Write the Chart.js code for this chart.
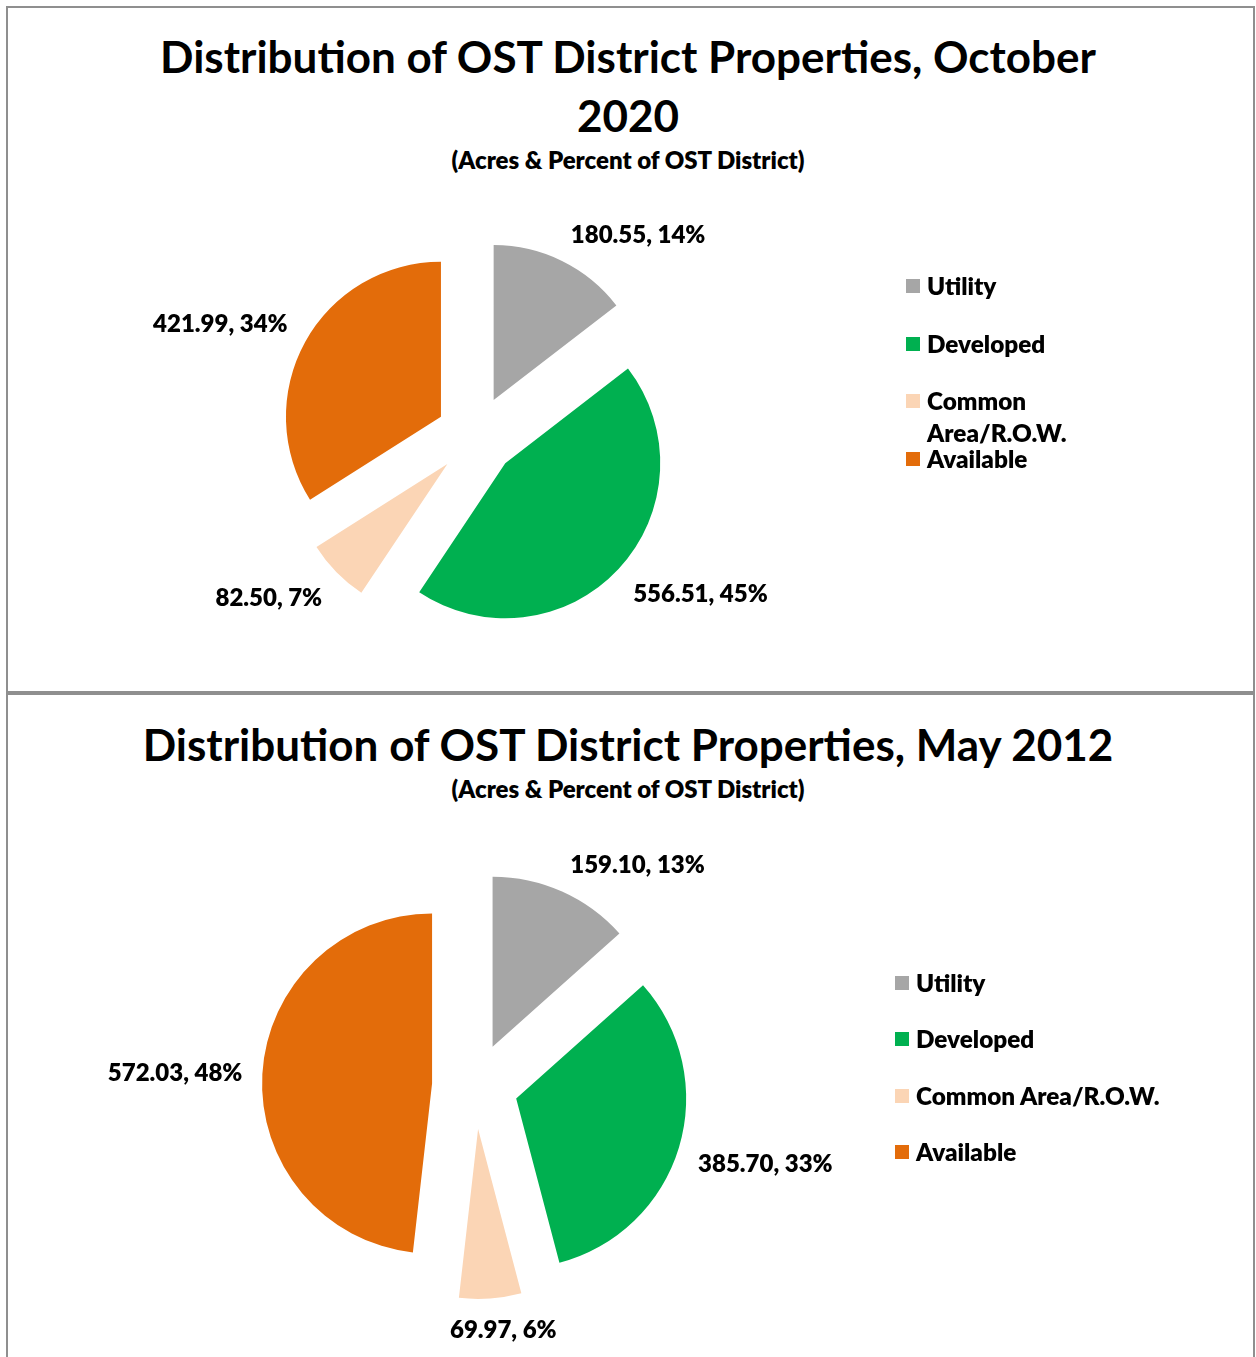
<!DOCTYPE html>
<html>
<head>
<meta charset="utf-8">
<script src="https://cdn.jsdelivr.net/npm/chart.js@4.4.1/dist/chart.umd.min.js"></script>
<style>
html,body{margin:0;padding:0;background:#fff;width:1256px;height:1357px;overflow:hidden;font-family:Lato,"Open Sans",sans-serif;color:#000;}
.box{position:absolute;box-sizing:border-box;border:2px solid #8f8f8f;}
.title{position:absolute;left:0;width:1256px;text-align:center;font-weight:700;font-size:44px;line-height:59px;white-space:nowrap;}
.sub{position:absolute;left:0;width:1256px;text-align:center;font-weight:800;font-size:24px;line-height:26px;}
canvas{position:absolute;left:0;}
.leg{position:absolute;font-weight:800;font-size:24.3px;line-height:32px;}
.leg .sw{position:absolute;width:14px;height:14px;}
.leg .tx{position:absolute;white-space:normal;}
</style>
</head>
<body>
<div class="box" style="left:6px;top:6px;width:1249px;height:687px;"></div>
<div class="box" style="left:6px;top:693px;width:1249px;height:700px;"></div>

<div class="title" style="top:27px;">Distribution of OST District Properties, October<br>2020</div>
<div class="sub" style="top:147px;">(Acres &amp; Percent of OST District)</div>
<div class="title" style="top:715px;">Distribution of OST District Properties, May 2012</div>
<div class="sub" style="top:776px;">(Acres &amp; Percent of OST District)</div>

<canvas id="c1" width="1256" height="682" style="top:8px;"></canvas>
<canvas id="c2" width="1256" height="661" style="top:696px;"></canvas>
<div id="leg1"></div>
<div id="leg2"></div>

<script>
// ---- data ----
const categories = ['Utility', 'Developed', 'Common Area/R.O.W.', 'Available'];
const colors = ['#A6A6A6', '#00B050', '#FBD5B5', '#E36C0A'];
const acres2020 = [180.55, 556.51, 82.50, 421.99];
const pct2020 = [14, 45, 7, 34];
const acres2012 = [159.10, 385.70, 69.97, 572.03];
const pct2012 = [13, 33, 6, 48];

// ---- plugins ----
const explodePlugin = {
  id: 'explode',
  afterDatasetUpdate(chart, args, opts) {
    const d = opts.distance || 0;
    args.meta.data.forEach(arc => {
      const mid = (arc.startAngle + arc.endAngle) / 2;
      arc.x += Math.cos(mid) * d;
      arc.y += Math.sin(mid) * d;
    });
  }
};

const labelPlugin = {
  id: 'pieLabels',
  afterDatasetsDraw(chart, args, opts) {
    const ctx = chart.ctx;
    const meta = chart.getDatasetMeta(0);
    const ds = chart.data.datasets[0];
    ctx.save();
    ctx.font = opts.font;
    ctx.fillStyle = '#000';
    ctx.textAlign = 'center';
    ctx.textBaseline = 'middle';
    const cl = v => Math.max(-1, Math.min(1, v * 3));
    meta.data.forEach((arc, i) => {
      const mid = (arc.startAngle + arc.endAngle) / 2;
      const dx = Math.cos(mid), dy = Math.sin(mid);
      const r = arc.outerRadius + opts.gap;
      const text = ds.data[i].toFixed(2) + ', ' + opts.pct[i] + '%';
      const w = ctx.measureText(text).width;
      const h = opts.lineHeight;
      const x = arc.x + dx * r + cl(dx) * w / 2;
      const y = arc.y + dy * r + cl(dy) * h / 2 + opts.shiftY;
      ctx.fillText(text, x, y);
    });
    ctx.restore();
  }
};

function makePie(id, values, pct, radius, explode, pad) {
  return new Chart(document.getElementById(id), {
    type: 'pie',
    data: {
      labels: categories,
      datasets: [{ data: values, backgroundColor: colors, borderWidth: 0, radius: radius }]
    },
    options: {
      responsive: false,
      animation: false,
      events: [],
      layout: { padding: pad },
      plugins: {
        legend: { display: false },
        tooltip: { enabled: false },
        explode: { distance: explode },
        pieLabels: { font: '800 24px Lato, "Open Sans", sans-serif', gap: 20, lineHeight: 20, shiftY: 2, pct: pct }
      }
    },
    plugins: [explodePlugin, labelPlugin]
  });
}

makePie('c1', acres2020, pct2020, 155, 40, { left: 0, right: 304, top: 174, bottom: 0 });
makePie('c2', acres2012, pct2012, 170, 43, { left: 0, right: 306, top: 119, bottom: 0 });

// ---- legends ----
function makeLegend(id, left, top, step, textWidth) {
  const el = document.getElementById(id);
  categories.forEach((c, i) => {
    const item = document.createElement('div');
    item.className = 'leg';
    item.style.left = left + 'px';
    item.style.top = (top + i * step) + 'px';
    const sw = document.createElement('div');
    sw.className = 'sw';
    sw.style.background = colors[i];
    sw.style.left = '0px';
    sw.style.top = '9px';
    const tx = document.createElement('div');
    tx.className = 'tx';
    tx.style.left = '21px';
    tx.style.top = '0px';
    tx.style.width = textWidth + 'px';
    tx.textContent = c;
    item.appendChild(sw);
    item.appendChild(tx);
    el.appendChild(item);
  });
}
makeLegend('leg1', 906, 270, 57.7, 150);
makeLegend('leg2', 895, 967, 56.3, 320);
</script>
</body>
</html>
